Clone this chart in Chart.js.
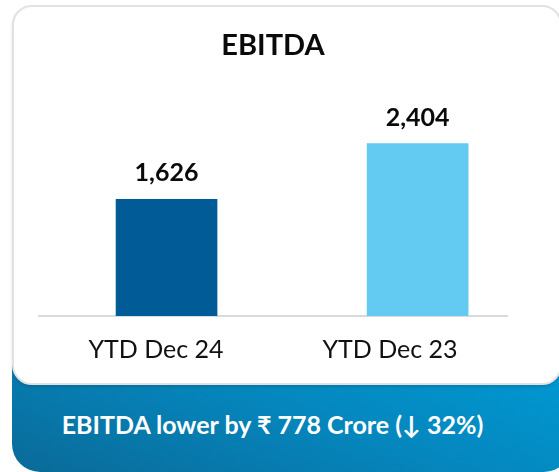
<!DOCTYPE html>
<html>
<head>
<meta charset="utf-8">
<script src="https://cdn.jsdelivr.net/npm/chart.js@4"></script>
<style>
  body { margin: 0; width: 559px; height: 472px; overflow: hidden; background: #fff; font-family: Lato, sans-serif; }
  .banner {
    position: absolute; left: 12px; top: 350px; width: 560px; height: 122px;
    border-radius: 0 0 28px 28px;
    background: linear-gradient(200deg, #009bd6 0%, #0586bd 50%, #0a6a98 100%);
  }
  .banner span {
    position: absolute; left: 0; width: 521px; top: 59px; text-align: center;
    color: #fff; font: 700 25px Lato, sans-serif;
  }
  .card {
    position: absolute; left: 12px; top: 5px; width: 546px; height: 376px;
    background: #fff; border: 2px solid #e2e2e2; border-radius: 20px;
    box-shadow: 0 2px 3px rgba(0,0,0,.12);
  }
  #wrap { position: absolute; left: 0; top: 0; width: 559px; height: 383px; }
</style>
</head>
<body>
<div class="banner"><span id="note"></span></div>
<div class="card"></div>
<div id="wrap"><canvas id="ebitdaChart"></canvas></div>
<script>
  /* ================= DATA ================= */
  const categories = ["YTD Dec 24", "YTD Dec 23"];
  const ebitda = [1626, 2404];
  const barColors = ["#005b96", "#63caf2"];
  const chartTitle = "EBITDA";
  const noteText = "EBITDA lower by ₹ 778 Crore (↓ 32%)";

  document.getElementById("note").textContent = noteText;

  /* ================= VALUE LABELS ================= */
  const valueLabels = {
    id: "valueLabels",
    afterDatasetsDraw(chart) {
      const { ctx } = chart;
      const meta = chart.getDatasetMeta(0);
      ctx.save();
      ctx.font = "700 25px Lato";
      ctx.fillStyle = "#0a0a0a";
      ctx.textAlign = "center";
      ctx.textBaseline = "alphabetic";
      meta.data.forEach((bar, i) => {
        ctx.fillText(ebitda[i].toLocaleString("en-US"), bar.x, bar.y - 18);
      });
      ctx.restore();
    }
  };

  new Chart(document.getElementById("ebitdaChart"), {
    type: "bar",
    data: {
      labels: categories,
      datasets: [{
        data: ebitda.map((v, i) => ({ x: i, y: v })),
        backgroundColor: barColors,
        barThickness: 101,
        xAxisID: "xb"
      }]
    },
    options: {
      responsive: true,
      maintainAspectRatio: false,
      animation: false,
      layout: { padding: { left: 39, right: 52, top: 0, bottom: 7 } },
      plugins: {
        legend: { display: false },
        tooltip: { enabled: false },
        title: {
          display: true,
          text: chartTitle,
          color: "#0a0a0a",
          font: { family: "Lato", size: 29, weight: "700" },
          padding: { top: 28, bottom: 38 }
        }
      },
      scales: {
        x: {
          type: "category",
          grid: { display: false },
          border: { display: true, color: "#dadada", width: 2 },
          ticks: { color: "#111", font: { family: "Lato", size: 25 }, padding: 11 }
        },
        xb: {
          type: "linear",
          display: false,
          offset: false,
          min: -0.508,
          max: 1.356
        },
        y: {
          display: false,
          min: 0,
          max: 3000
        }
      }
    },
    plugins: [valueLabels]
  });
</script>
</body>
</html>
